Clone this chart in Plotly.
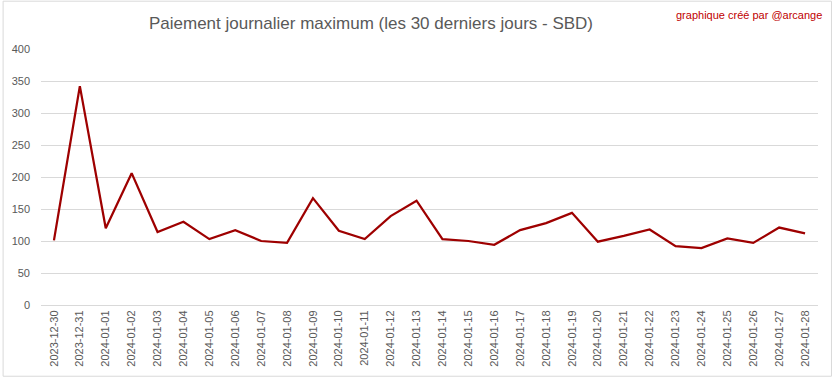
import plotly.graph_objects as go

dates = ["2023-12-30", "2023-12-31", "2024-01-01", "2024-01-02", "2024-01-03", "2024-01-04",
         "2024-01-05", "2024-01-06", "2024-01-07", "2024-01-08", "2024-01-09", "2024-01-10",
         "2024-01-11", "2024-01-12", "2024-01-13", "2024-01-14", "2024-01-15", "2024-01-16",
         "2024-01-17", "2024-01-18", "2024-01-19", "2024-01-20", "2024-01-21", "2024-01-22",
         "2024-01-23", "2024-01-24", "2024-01-25", "2024-01-26", "2024-01-27", "2024-01-28"]
max_payout = [101, 342, 120, 206, 114, 130, 103, 117, 100, 97, 167, 116, 103, 139, 163,
              103, 100, 94, 117, 128, 144, 99, 108, 118, 92, 89, 104, 97, 121, 112]
y_ticks = [0, 50, 100, 150, 200, 250, 300, 350, 400]

W, H = 833, 379
L, R, T, B = 39, 15, 49, 73
pw, ph = W - L - R, H - T - B

fig = go.Figure()
fig.add_trace(go.Scatter(x=dates, y=max_payout, mode="lines",
                         line=dict(color="#9E0000", width=2.25), showlegend=False))

font_fam = "Liberation Sans, Arial, sans-serif"

fig.update_layout(
    width=W, height=H,
    margin=dict(l=L, r=R, t=T, b=B),
    paper_bgcolor="white", plot_bgcolor="white",
    font=dict(family=font_fam, color="#595959", size=11),
    title=dict(text="Paiement journalier maximum (les 30 derniers jours - SBD)",
               x=371 / W, xanchor="center", y=1 - 23 / H, yanchor="middle",
               font=dict(size=17, color="#595959", family=font_fam)),
    xaxis=dict(type="category", range=[-0.5, 29.5], showgrid=False, tickangle=-90,
               showline=True, linecolor="#d9d9d9", linewidth=1, ticks="",
               tickfont=dict(size=11, color="#595959", family=font_fam)),
    yaxis=dict(range=[0, 400], tickvals=y_ticks, showgrid=True, gridcolor="#d9d9d9",
               gridwidth=1, zeroline=False, showline=False, ticks="", ticklabelstandoff=10,
               tickfont=dict(size=11, color="#595959", family=font_fam)),
    annotations=[dict(text="graphique créé par @arcange", xref="paper", yref="paper",
                      x=(824 - L) / pw, y=(T + ph - 15) / ph, xanchor="right", yanchor="middle",
                      showarrow=False, font=dict(size=11, color="#C00000", family=font_fam))],
    shapes=[dict(type="rect", xref="paper", yref="paper",
                 x0=(1 - L) / pw, x1=(831.5 - L) / pw,
                 y0=(T + ph - 377.5) / ph, y1=(T + ph - 1) / ph,
                 line=dict(color="#d9d9d9", width=1), fillcolor="rgba(0,0,0,0)", layer="below")],
)

fig.write_html("out.html", config={"displayModeBar": False},
               post_script="document.body.style.margin='0';document.body.style.overflow='hidden';")
